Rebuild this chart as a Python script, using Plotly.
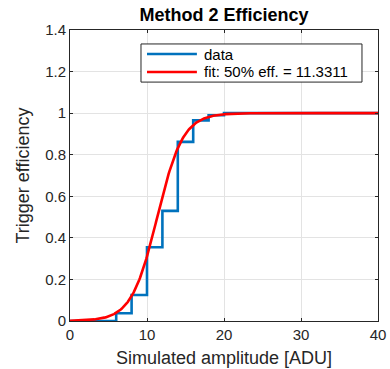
import numpy as np
import plotly.graph_objects as go

# Data (stairs)
amp_edges = [0, 2, 4, 6, 8, 10, 12, 14, 16, 18, 20, 22, 24, 26, 28, 30, 32, 34, 36, 38, 40]
eff_values = [0, 0, 0, 0.037, 0.125, 0.355, 0.53, 0.862, 0.965, 0.99, 1, 1, 1, 1, 1, 1, 1, 1, 1, 1, 1]

# Fit parameters (logistic)
fit_mu = 11.3311
fit_scale = 1.67

legend_names = ["data", "fit: 50%% eff. = %.4f" % fit_mu]
colors = ["#0072BD", "#FF0000"]

x_fit = np.linspace(0, 40, 401)
y_fit = 1.0 / (1.0 + np.exp(-(x_fit - fit_mu) / fit_scale))

FONT = "Liberation Sans, Arial, Helvetica"

fig = go.Figure()
fig.add_trace(go.Scatter(x=amp_edges, y=eff_values, mode="lines", line_shape="hv",
                         line=dict(color=colors[0], width=2.6), name=legend_names[0],
                         showlegend=False))
fig.add_trace(go.Scatter(x=x_fit, y=y_fit, mode="lines",
                         line=dict(color=colors[1], width=2.6), name=legend_names[1],
                         showlegend=False))

axis_common = dict(showline=True, linecolor="#262626", linewidth=1, mirror="ticks",
                   ticks="inside", ticklen=3, tickcolor="#262626",
                   showgrid=True, gridcolor="#e3e3e3", gridwidth=1, zeroline=False,
                   automargin=False,
                   tickfont=dict(family=FONT, size=15, color="#262626"),
                   title_font=dict(family=FONT, size=18, color="#262626"))

# custom MATLAB-like legend box (paper coords)
fig.add_shape(type="rect", xref="paper", yref="paper", x0=0.2305, x1=0.948, y0=0.821, y1=0.952,
              line=dict(color="#262626", width=1), fillcolor="white", layer="above")
row_y = [0.9175, 0.8557]
for name, col, yy in zip(legend_names, colors, row_y):
    fig.add_shape(type="line", xref="paper", yref="paper", x0=0.25, x1=0.412, y0=yy, y1=yy,
                  line=dict(color=col, width=2.6), layer="above")
    fig.add_annotation(xref="paper", yref="paper", x=0.4286, y=yy, text=name, showarrow=False,
                       xanchor="left", yanchor="middle",
                       font=dict(family=FONT, size=15, color="black"))

fig.update_layout(
    width=390, height=369,
    margin=dict(l=70, r=12, t=30, b=48),
    paper_bgcolor="white", plot_bgcolor="white",
    title=dict(text="<b>Method 2 Efficiency</b>", x=(70 + 378) / 2 / 390, xanchor="center",
               y=1 - 15 / 369, yanchor="middle",
               font=dict(family=FONT, size=18, color="black")),
    xaxis=dict(range=[0, 40], tickvals=[0, 10, 20, 30, 40],
               title=dict(text="Simulated amplitude [ADU]", standoff=9), **axis_common),
    yaxis=dict(range=[0, 1.4], tickvals=[0, 0.2, 0.4, 0.6, 0.8, 1, 1.2, 1.4],
               ticktext=["0", "0.2", "0.4", "0.6", "0.8", "1", "1.2", "1.4"],
               title=dict(text="Trigger efficiency", standoff=10), **axis_common),
    showlegend=False,
)

fig.write_html("out.html")
